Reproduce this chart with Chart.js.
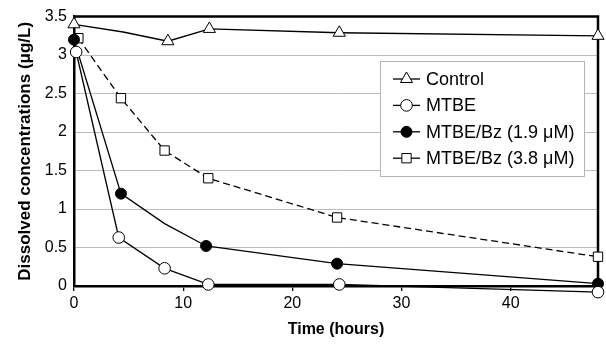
<!DOCTYPE html>
<html>
<head>
<meta charset="utf-8">
<script src="https://cdn.jsdelivr.net/npm/chart.js@4/dist/chart.umd.min.js"></script>
<style>
  body { margin: 0; background: #fff; }
  #wrap { width: 606px; height: 346px; }
</style>
</head>
<body>
<div id="wrap"><canvas id="conc" width="606" height="346"></canvas></div>
<script>
  // sampling times (hours) and concentrations (ug/L) per series
  const seriesNames = ['Control', 'MTBE', 'MTBE/Bz (1.9 μM)', 'MTBE/Bz (3.8 μM)'];

  const controlTime = [0, 4.5, 8.6, 12.4, 24.3, 48];
  const controlConc = [3.40, 3.30, 3.18, 3.34, 3.29, 3.25];
  const controlMarked = [1, 0, 1, 1, 1, 1];

  const mtbeTime = [0.2, 4.1, 8.3, 12.3, 24.3, 48];
  const mtbeConc = [3.04, 0.63, 0.23, 0.02, 0.02, -0.08];
  const mtbeMarked = [1, 1, 1, 1, 1, 1];

  const bz19Time = [0, 4.3, 8.3, 12.1, 24.1, 48];
  const bz19Conc = [3.20, 1.20, 0.81, 0.52, 0.29, 0.03];
  const bz19Marked = [1, 1, 0, 1, 1, 1];

  const bz38Time = [0.4, 4.3, 8.3, 12.3, 24.1, 48];
  const bz38Conc = [3.22, 2.44, 1.76, 1.40, 0.89, 0.38];
  const bz38Marked = [1, 1, 1, 1, 1, 1];

  const xTicks = [0, 10, 20, 30, 40];
  const font = '"Liberation Sans", Arial, sans-serif';

  function pts(xs, ys) {
    return xs.map((x, i) => ({ x: x, y: ys[i] }));
  }

  const styles = [
    { pointStyle: 'triangle', radius: 7, fill: '#fff', dash: [] },
    { pointStyle: 'circle', radius: 5.8, fill: '#fff', dash: [] },
    { pointStyle: 'circle', radius: 5.5, fill: '#000', dash: [] },
    { pointStyle: 'rect', radius: 6.6, fill: '#fff', dash: [7, 4] }
  ];

  function makeSet(i, xs, ys, marked) {
    const s = styles[i];
    return {
      label: seriesNames[i],
      data: pts(xs, ys),
      showLine: true,
      borderColor: '#000',
      borderWidth: 1.3,
      borderDash: s.dash,
      pointStyle: s.pointStyle,
      pointRadius: marked.map(m => m ? s.radius : 0),
      pointHoverRadius: marked.map(m => m ? s.radius : 0),
      pointBackgroundColor: s.fill,
      pointBorderColor: '#000',
      pointBorderWidth: 1,
      clip: false
    };
  }

  // top/right frame of the plot area
  const framePlugin = {
    id: 'frame',
    beforeDatasetsDraw(chart) {
      const a = chart.chartArea, ctx = chart.ctx;
      ctx.save();
      ctx.strokeStyle = '#000';
      ctx.lineWidth = 2.5;
      ctx.beginPath();
      ctx.moveTo(a.left, a.top);
      ctx.lineTo(a.right, a.top);
      ctx.lineTo(a.right, a.bottom);
      ctx.stroke();
      ctx.restore();
    }
  };

  // boxed legend inside the plot
  const legendPlugin = {
    id: 'boxLegend',
    afterDraw(chart) {
      const ctx = chart.ctx;
      const bx = 380, by = 61, bw = 204, bh = 115;
      ctx.save();
      ctx.fillStyle = '#fff';
      ctx.fillRect(bx, by, bw, bh);
      ctx.strokeStyle = '#b4b4b4';
      ctx.lineWidth = 1;
      ctx.strokeRect(bx + 0.5, by + 0.5, bw, bh);
      ctx.font = '18px ' + font;
      ctx.textBaseline = 'middle';
      chart.data.datasets.forEach((ds, i) => {
        const y = 79 + i * 26.4;
        ctx.strokeStyle = '#000';
        ctx.lineWidth = 1.3;
        ctx.setLineDash([]);
        ctx.beginPath();
        ctx.moveTo(393, y);
        ctx.lineTo(420, y);
        ctx.stroke();
        ctx.fillStyle = styles[i].fill;
        ctx.lineWidth = 1;
        Chart.helpers.drawPoint(ctx, {
          pointStyle: styles[i].pointStyle,
          radius: styles[i].radius,
          rotation: 0,
          borderWidth: 1
        }, 406.5, y);
        ctx.fillStyle = '#000';
        ctx.fillText(ds.label, 426, y + 1);
      });
      ctx.restore();
    }
  };

  new Chart(document.getElementById('conc'), {
    type: 'scatter',
    data: {
      datasets: [
        makeSet(0, controlTime, controlConc, controlMarked),
        makeSet(1, mtbeTime, mtbeConc, mtbeMarked),
        makeSet(2, bz19Time, bz19Conc, bz19Marked),
        makeSet(3, bz38Time, bz38Conc, bz38Marked)
      ]
    },
    options: {
      responsive: false,
      animation: false,
      layout: { padding: { top: 14, right: 1, left: 0, bottom: 0 } },
      plugins: { legend: { display: false }, tooltip: { enabled: false } },
      scales: {
        x: {
          type: 'linear',
          min: 0,
          max: 48,
          afterBuildTicks(scale) {
            scale.ticks = xTicks.map(v => ({ value: v }));
          },
          afterFit(scale) { scale.height = 60; },
          ticks: { color: '#000', font: { family: font, size: 16 }, padding: 3, maxRotation: 0,
                   callback: v => String(v) },
          grid: { drawOnChartArea: false, drawTicks: true, tickLength: 5, color: '#000', lineWidth: 1.3 },
          border: { color: '#000', width: 2.5 },
          title: {
            display: true,
            text: 'Time (hours)',
            color: '#000',
            font: { family: font, size: 16, weight: 'bold' },
            padding: { top: 0, bottom: 7 }
          }
        },
        y: {
          min: 0,
          max: 3.5,
          afterFit(scale) { scale.width = 74; },
          ticks: { stepSize: 0.5, color: '#000', font: { family: font, size: 16 }, padding: 7,
                   callback: v => String(v) },
          grid: { color: '#bdbdbd', lineWidth: 1, drawTicks: false },
          border: { color: '#000', width: 2.5 },
          title: {
            display: true,
            text: 'Dissolved concentrations (μg/L)',
            color: '#000',
            font: { family: font, size: 17, weight: 'bold' },
            padding: { top: 15, bottom: 0 }
          }
        }
      }
    },
    plugins: [framePlugin, legendPlugin]
  });
</script>
</body>
</html>
